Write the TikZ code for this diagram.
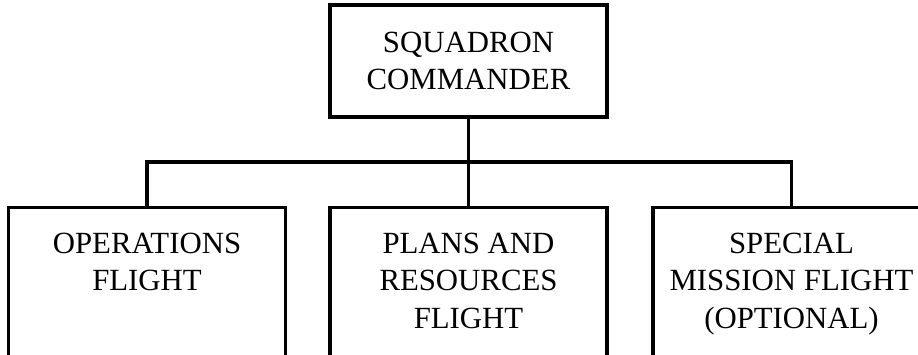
\documentclass[tikz,border=0pt]{standalone}
\usepackage{fontspec}
\setmainfont{Liberation Serif}
\usetikzlibrary{calc}
\begin{document}
\begin{tikzpicture}[x=1pt,y=-1pt,
  orgbox/.style={draw=black, line width=3.4pt, line join=miter, minimum width=277pt, inner sep=0pt},
  lbl/.style={font=\fontsize{30.8}{37.5}\selectfont, align=center, inner sep=0pt},
  wire/.style={draw=black, line width=3.4pt, line join=miter}]
\useasboundingbox (0,0) rectangle (918,354);
\clip (0,0) rectangle (918,354);
% commander
\node[orgbox, minimum height=112pt, lbl] (cmd) at (468.5,61) {SQUADRON\\COMMANDER};
% flight boxes (extend below the picture edge)
\node[orgbox, minimum height=220pt, anchor=north] (ops) at (147,206) {};
\node[orgbox, minimum height=220pt, anchor=north] (plans) at (468.5,206) {};
\node[orgbox, minimum height=220pt, anchor=north] (spec) at (791.5,206) {};
% labels
\node[lbl, anchor=north] (opst) at ($(ops.north)+(0,26.5)$) {OPERATIONS\\FLIGHT};
\node[lbl, anchor=north] (planst) at ($(plans.north)+(0,26.5)$) {PLANS AND\\RESOURCES\\FLIGHT};
\node[lbl, anchor=north] (spect) at ($(spec.north)+(0,26.5)$) {SPECIAL\\MISSION FLIGHT\\(OPTIONAL)};
% connectors
\draw[wire] (cmd.south) -- (plans.north);
\draw[wire] (ops.north) -- ++(0,-44) -| (spec.north);
\end{tikzpicture}
\end{document}
